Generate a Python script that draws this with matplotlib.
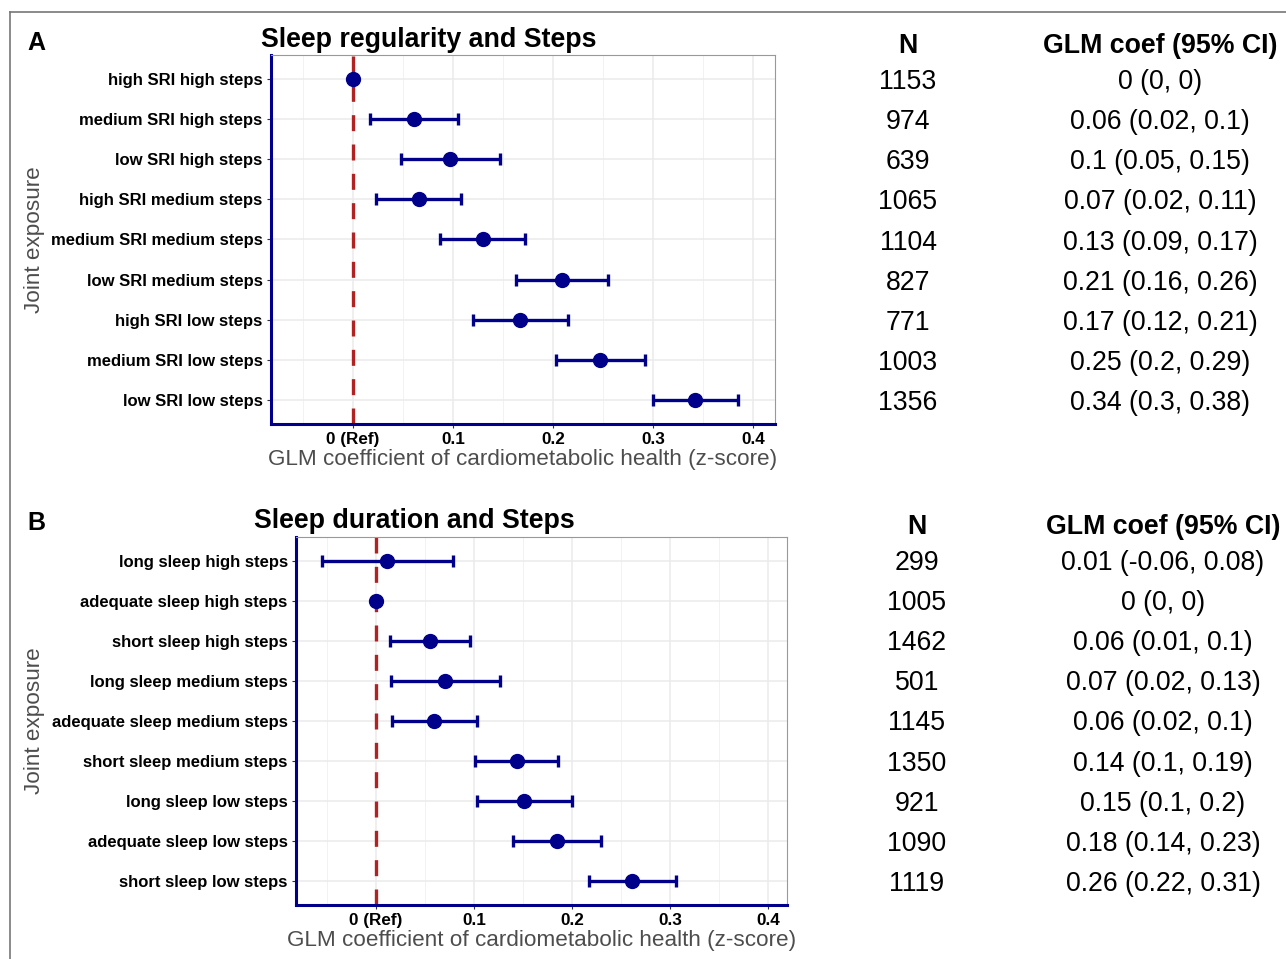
import matplotlib.pyplot as plt
from matplotlib.lines import Line2D
import numpy as np

plt.rcParams['font.family'] = ['Liberation Sans', 'DejaVu Sans']

# panel A: sleep regularity x steps
labels_a = ["high SRI high steps", "medium SRI high steps", "low SRI high steps",
            "high SRI medium steps", "medium SRI medium steps", "low SRI medium steps",
            "high SRI low steps", "medium SRI low steps", "low SRI low steps"]
est_a = [0.0, 0.061, 0.097, 0.066, 0.130, 0.209, 0.167, 0.247, 0.342]
lo_a = [0.0, 0.017, 0.048, 0.023, 0.087, 0.163, 0.120, 0.203, 0.300]
hi_a = [0.0, 0.105, 0.147, 0.108, 0.172, 0.255, 0.215, 0.292, 0.385]
n_a = [1153, 974, 639, 1065, 1104, 827, 771, 1003, 1356]
coef_a = ["0 (0, 0)", "0.06 (0.02, 0.1)", "0.1 (0.05, 0.15)", "0.07 (0.02, 0.11)",
          "0.13 (0.09, 0.17)", "0.21 (0.16, 0.26)", "0.17 (0.12, 0.21)",
          "0.25 (0.2, 0.29)", "0.34 (0.3, 0.38)"]

# panel B: sleep duration x steps
labels_b = ["long sleep high steps", "adequate sleep high steps", "short sleep high steps",
            "long sleep medium steps", "adequate sleep medium steps", "short sleep medium steps",
            "long sleep low steps", "adequate sleep low steps", "short sleep low steps"]
est_b = [0.011, 0.0, 0.055, 0.070, 0.059, 0.144, 0.151, 0.184, 0.261]
lo_b = [-0.055, 0.0, 0.014, 0.015, 0.016, 0.101, 0.103, 0.140, 0.217]
hi_b = [0.078, 0.0, 0.096, 0.126, 0.103, 0.186, 0.200, 0.229, 0.306]
n_b = [299, 1005, 1462, 501, 1145, 1350, 921, 1090, 1119]
coef_b = ["0.01 (-0.06, 0.08)", "0 (0, 0)", "0.06 (0.01, 0.1)", "0.07 (0.02, 0.13)",
          "0.06 (0.02, 0.1)", "0.14 (0.1, 0.19)", "0.15 (0.1, 0.2)",
          "0.18 (0.14, 0.23)", "0.26 (0.22, 0.31)"]

xticks = [0, 0.1, 0.2, 0.3, 0.4]
xticklabels = ["0 (Ref)", "0.1", "0.2", "0.3", "0.4"]

W, H = 1286, 959
fig = plt.figure(figsize=(W / 100, H / 100), dpi=100)

navy = "#00008B"
red = "#B22222"
gray_txt = "#4D4D4D"


def px(x, y):
    return x / W, 1 - y / H


def forest(box, labels, est, lo, hi, xlim):
    l, t, r, b = box
    ax = fig.add_axes([l / W, 1 - b / H, (r - l) / W, (b - t) / H])
    y = np.arange(len(labels))[::-1]
    ax.axvline(0, color=red, ls=(0, (4.8, 4.0)), lw=2.4, zorder=2)
    est = np.array(est); lo = np.array(lo); hi = np.array(hi)
    ax.errorbar(est, y, xerr=[est - lo, hi - est], fmt='o', color=navy, ms=10,
                elinewidth=2.4, capsize=4, capthick=2.4, zorder=3)
    ax.set_xlim(xlim)
    ax.set_ylim(-0.6, len(labels) - 0.4)
    ax.set_yticks(y)
    ax.set_yticklabels(labels, fontsize=12, fontweight='bold')
    ax.set_xticks(xticks)
    ax.set_xticklabels(xticklabels, fontsize=12.3, fontweight='bold')
    ax.set_xticks([-0.05, 0.05, 0.15, 0.25, 0.35], minor=True)
    ax.grid(True, which='major', color='#EBEBEB', lw=1.1, zorder=0)
    ax.grid(True, which='minor', axis='x', color='#F2F2F2', lw=0.7, zorder=0)
    ax.set_axisbelow(True)
    ax.tick_params(axis='both', length=3, color='#333333', pad=3)
    ax.tick_params(axis='x', which='minor', length=0)
    for s in ['left', 'bottom']:
        ax.spines[s].set_color(navy)
        ax.spines[s].set_linewidth(2.2)
    for s in ['top', 'right']:
        ax.spines[s].set_color('#999999')
        ax.spines[s].set_linewidth(0.8)
    ax.set_xlabel("GLM coefficient of cardiometabolic health (z-score)",
                  fontsize=16.2, color=gray_txt, labelpad=1)
    return ax


def table(rows_y, n, coef, xn, xc, yhead):
    fig.text(*px(xn, yhead), "N", fontsize=19.3, fontweight='bold', ha='center', va='center')
    fig.text(*px(xc, yhead), "GLM coef (95% CI)", fontsize=19.3, fontweight='bold',
             ha='center', va='center')
    for yy, nn, cc in zip(rows_y, n, coef):
        fig.text(*px(xn, yy), str(nn), fontsize=19.2, ha='center', va='center')
        fig.text(*px(xc, yy), cc, fontsize=19.2, ha='center', va='center')


forest((271, 55, 775, 424), labels_a, est_a, lo_a, hi_a, (-0.082, 0.422))
forest((296, 537, 787, 905), labels_b, est_b, lo_b, hi_b, (-0.0816, 0.419))

fig.text(*px(429, 40), "Sleep regularity and Steps", fontsize=19.3, fontweight='bold',
         ha='center', va='center')
fig.text(*px(414, 521), "Sleep duration and Steps", fontsize=19.3, fontweight='bold',
         ha='center', va='center')
fig.text(*px(36, 43), "A", fontsize=18, fontweight='bold', ha='center', va='center')
fig.text(*px(36, 523), "B", fontsize=18, fontweight='bold', ha='center', va='center')
fig.text(*px(35, 240), "Joint exposure", fontsize=16.2, color=gray_txt, rotation=90,
         ha='center', va='center')
fig.text(*px(35, 721), "Joint exposure", fontsize=16.2, color=gray_txt, rotation=90,
         ha='center', va='center')

rows_a = np.linspace(82, 403, 9)
rows_b = np.linspace(563, 884, 9)
table(rows_a, n_a, coef_a, 908, 1160, 46)
table(rows_b, n_b, coef_b, 917, 1163, 527)

# outer frame lines
fig.add_artist(Line2D([10 / W, 1], [1 - 12 / H, 1 - 12 / H], color='#777777', lw=1.2))
fig.add_artist(Line2D([10 / W, 10 / W], [0, 1 - 12 / H], color='#777777', lw=1.2))

fig.savefig("out.png", dpi=100)
